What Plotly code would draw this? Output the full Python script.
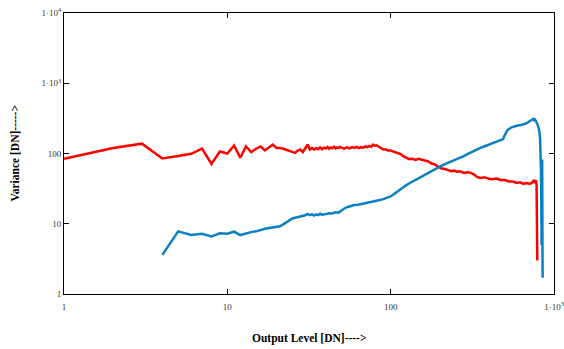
import plotly.graph_objects as go

# ---- data ----
red_x = [1, 2, 3, 4, 5, 6, 7, 8, 9, 10, 11, 12, 13, 14, 15, 16, 17, 18, 19, 20,
         21, 22, 23, 24, 25, 26, 27, 28, 29, 30, 31, 32,
         33, 34, 35, 36, 37, 38, 39, 40, 41, 42, 43, 44, 45, 46, 47, 48, 49, 50,
         52, 54, 56, 58, 60, 62, 64, 66, 68, 70, 72, 74, 76, 78, 80, 82, 84, 86,
         88, 90, 93, 96, 100, 104, 108, 112, 116, 120, 125, 130, 136, 142, 148,
         155, 162, 170, 178, 186, 195, 205, 215, 225, 235, 245, 255, 265, 280,
         295, 310, 325, 340, 355, 375, 395, 420, 445, 470, 500, 530, 560, 590,
         620, 650, 680, 710, 730, 745, 755, 765, 772, 778, 782, 785, 788, 790]
red_y = [84, 120, 138, 85, 92, 99, 117, 71, 107, 100, 130, 87, 126, 105, 117, 126,
         111, 123, 134, 120, 120, 117, 113, 108, 105, 102, 110, 114, 105, 122, 134,
         114,
         120, 114, 119, 116, 122, 115, 121, 118, 124, 117, 122, 119, 125, 118, 122,
         120, 124, 121, 117, 122, 118, 123, 120, 124, 119, 123, 121, 126, 123, 128,
         125, 134, 129, 131, 126, 124, 118, 114, 115, 110, 110, 106, 103, 100, 97,
         91, 86, 83, 84, 81, 84, 82, 80, 77, 72, 70, 65, 61, 60, 58, 56, 57, 55,
         56, 53, 54, 53, 50, 46, 45, 46, 44, 43, 44, 42, 42, 40, 40, 38, 39, 37,
         38, 37, 38, 40, 42, 38, 41, 40, 36, 22, 8, 3]

blue_x = [4, 5, 6, 7, 8, 9, 10, 11, 12, 13, 14, 15, 16, 17, 18, 19, 20, 21, 22,
          23, 24, 25, 26, 27, 28, 29,
          30, 31, 32, 33, 34, 35, 36, 37, 38, 40, 42, 44, 46, 48, 50, 52, 54, 56,
          58, 60, 63, 66, 70, 74, 78, 82, 86, 90, 95, 100, 105, 110, 115, 120,
          125, 131, 137, 144, 150, 158, 165, 172, 180, 190, 200, 210, 220, 235,
          250, 265, 280, 295, 305, 320, 340, 360, 380, 400, 425, 450, 470, 488,
          495, 505, 515, 525, 537, 550, 565, 580, 600, 625, 646, 665, 680, 700,
          720, 735, 745, 755, 765, 775, 785, 795, 805, 815, 822, 828, 832, 836,
          840, 843, 846, 849, 852]
blue_y = [3.6, 7.8, 6.9, 7.2, 6.6, 7.3, 7.2, 7.7, 6.9, 7.3, 7.6, 7.8, 8.2, 8.5,
          8.7, 8.9, 9.1, 9.2, 9.8, 10.5, 11.2, 11.9, 12.2, 12.5, 12.6, 12.8,
          13.2, 13.8, 13.3, 13.6, 13.1, 13.5, 13.3, 13.9, 13.4, 13.7, 14.1, 14.0,
          14.6, 14.4, 15.5, 16.5, 17.2, 17.8, 18.2, 18.5, 18.7, 19.1, 19.5, 20.1,
          20.4, 21.0, 21.8, 22.4, 23.6, 24.5, 26.5, 28.8, 31, 33, 35.5, 38, 40,
          42.5, 45, 48, 51, 54, 57, 61, 65, 69, 72, 77, 82, 87, 92, 98, 102, 107,
          115, 122, 128, 134, 142, 149, 155, 160, 175, 195, 210, 220, 230, 236,
          240, 246, 250, 255, 258, 264, 270, 282, 295, 300, 310, 298, 305, 290,
          275, 255, 230, 200, 160, 110, 60, 20, 5, 40, 82, 10, 1.7]

x_ticks = [1, 10, 100, 1000]
x_tick_text = ["1", "10", "100", "1·10<sup>3</sup>"]
y_ticks = [1, 10, 100, 1000, 10000]
y_tick_text = ["1", "10", "100", "1·10<sup>3</sup>", "1·10<sup>4</sup>"]

serif = "Liberation Serif, Times New Roman, serif"

fig = go.Figure()
fig.add_trace(go.Scatter(x=red_x, y=red_y, mode="lines",
                         line=dict(color="#ff0000", width=2.5),
                         showlegend=False))
fig.add_trace(go.Scatter(x=blue_x, y=blue_y, mode="lines",
                         line=dict(color="#0a80c4", width=2.5),
                         showlegend=False))

axis_common = dict(
    showgrid=False, zeroline=False, showline=True, linecolor="black",
    linewidth=1, mirror="ticks", ticks="inside", ticklen=5, tickwidth=1,
    tickcolor="black", tickfont=dict(family=serif, size=9, color="#333333"),
    automargin=False,
)

fig.update_xaxes(type="log", range=[0, 3], tickvals=x_ticks,
                 ticktext=x_tick_text, ticklabelstandoff=4, **axis_common)
fig.update_yaxes(type="log", range=[0, 4], tickvals=y_ticks,
                 ticktext=y_tick_text, **axis_common)

fig.add_annotation(text="<b>Output Level [DN]----></b>", xref="paper",
                   yref="paper", x=0.5, y=0, xanchor="center",
                   yanchor="middle", yshift=-44, showarrow=False,
                   font=dict(family=serif, size=11.5, color="black"))
fig.add_annotation(text="<b>Variance [DN]-----></b>", xref="paper",
                   yref="paper", x=0, y=0.5, xanchor="center",
                   yanchor="middle", xshift=-50, textangle=-90,
                   showarrow=False,
                   font=dict(family=serif, size=11.5, color="black"))

fig.update_layout(
    width=564, height=349,
    margin=dict(l=64, r=10, t=13, b=55),
    plot_bgcolor="white", paper_bgcolor="white",
)

fig.write_html("out.html",
               config={"displayModeBar": False},
               post_script="document.body.style.margin='0';"
                           "document.body.style.overflow='hidden';")
